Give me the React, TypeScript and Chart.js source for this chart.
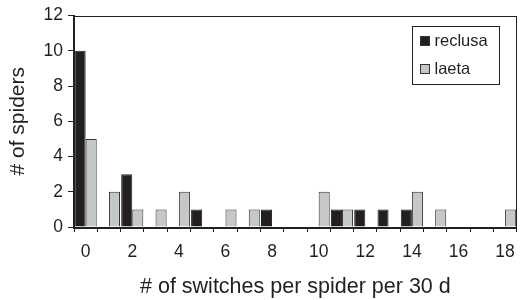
import React, { useEffect, useRef } from "react";
import { Chart, registerables } from "chart.js";

Chart.register(...registerables);

const categories = ["0","1","2","3","4","5","6","7","8","9","10","11","12","13","14","15","16","17","18"];
const reclusaValues = [10,0,3,0,0,1,0,0,1,0,0,1,1,1,1,0,0,0,0];
const laetaValues = [5,2,1,1,2,0,1,1,0,0,2,1,0,0,2,1,0,0,1];
const yTicks = [0,2,4,6,8,10,12];

const FONT = "'Liberation Sans', Arial, sans-serif";
const INK = "#231f20";

const framePlugin = {
  id: "frame",
  afterDatasetsDraw(chart: any) {
    const { ctx, chartArea } = chart;
    ctx.save();
    ctx.strokeStyle = INK;
    ctx.lineWidth = 1;
    ctx.strokeRect(Math.round(chartArea.left) - 0.5, Math.round(chartArea.top) + 0.5,
      Math.round(chartArea.right - chartArea.left), Math.round(chartArea.bottom - chartArea.top));
    ctx.restore();
  },
};

const legendPlugin = {
  id: "boxLegend",
  afterDraw(chart: any) {
    const { ctx, chartArea } = chart;
    const w = 87, h = 58;
    const x = Math.round(chartArea.right - 18 - w) + 0.5;
    const y = Math.round(chartArea.top + 10) + 0.5;
    ctx.save();
    ctx.fillStyle = "#fff";
    ctx.fillRect(x, y, w, h);
    ctx.strokeStyle = INK;
    ctx.lineWidth = 1;
    ctx.strokeRect(x, y, w, h);
    ctx.font = `16.5px ${FONT}`;
    ctx.textBaseline = "middle";
    chart.data.datasets.forEach((ds: any, i: number) => {
      const cy = y + 15 + i * 28;
      ctx.fillStyle = ds.backgroundColor;
      ctx.fillRect(x + 8, cy - 5, 9, 9);
      ctx.strokeStyle = "#333";
      ctx.strokeRect(x + 8, cy - 5, 9, 9);
      ctx.fillStyle = INK;
      ctx.fillText(ds.label, x + 22, cy);
    });
    ctx.restore();
  },
};

export default function App() {
  const ref = useRef<HTMLCanvasElement>(null);
  useEffect(() => {
    document.body.style.margin = "0";
    const chart = new Chart(ref.current!, {
      type: "bar",
      data: {
        labels: categories,
        datasets: [
          { label: "reclusa", data: reclusaValues, backgroundColor: "#231f20", borderColor: "#231f20", borderWidth: 1 },
          { label: "laeta", data: laetaValues, backgroundColor: "#c6c7c9", borderColor: "#333333", borderWidth: 1 },
        ],
      },
      options: {
        animation: false,
        responsive: false,
        layout: { padding: { left: 0, top: 14, right: 7, bottom: 0 } },
        datasets: { bar: { categoryPercentage: 0.95, barPercentage: 1 } },
        plugins: { legend: { display: false }, tooltip: { enabled: false } },
        scales: {
          x: {
            grid: { offset: true, drawOnChartArea: false, tickLength: 5, color: INK },
            border: { color: INK },
            ticks: {
              autoSkip: false,
              maxRotation: 0,
              padding: 10,
              color: INK,
              font: { family: FONT, size: 17.5 },
              callback: (_v: any, i: number) => (i % 2 === 0 ? categories[i] : ""),
            },
            title: { display: true, text: "# of switches per spider per 30 d", color: INK, font: { family: FONT, size: 21.5 }, padding: { top: 0, bottom: 0 } },
            afterFit: (s: any) => { s.height = 73; },
          },
          y: {
            min: 0,
            max: 12,
            afterBuildTicks: (s: any) => { s.ticks = yTicks.map((v) => ({ value: v })); },
            grid: { drawOnChartArea: false, tickLength: 6, color: INK },
            border: { color: INK },
            ticks: { padding: 5, color: INK, font: { family: FONT, size: 17.5 } },
            title: { display: true, text: "# of spiders", color: INK, font: { family: FONT, size: 21 }, padding: { top: 6, bottom: 0 } },
            afterFit: (s: any) => { s.width = 74; },
          },
        },
      },
      plugins: [framePlugin, legendPlugin],
    });
    return () => chart.destroy();
  }, []);
  return <canvas ref={ref} width={525} height={300} style={{ display: "block" }} />;
}
